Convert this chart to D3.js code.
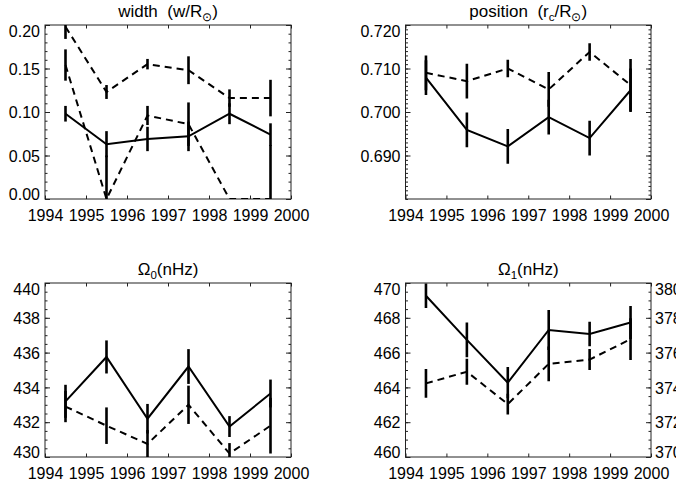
<!DOCTYPE html>
<html>
<head>
<meta charset="utf-8">
<script src="https://cdn.jsdelivr.net/npm/d3@7"></script>
<style>
  body { margin: 0; background: #fff; }
  text { font-family: "Liberation Sans", Arial, sans-serif; white-space: pre; }
</style>
</head>
<body>
<div id="chart"></div>
<script>
// years of the points (mid-year)
var years = [1994.5, 1995.5, 1996.5, 1997.5, 1998.5, 1999.5];
var yearTicks = [1994, 1995, 1996, 1997, 1998, 1999, 2000];

// width (w/Rsun)
var widthSolid = [0.098, 0.063, 0.069, 0.072, 0.098, 0.074];
var widthSolidErr = [0.009, 0.015, 0.014, 0.017, 0.012, 0.013];
var widthDashA = [0.198, 0.123, 0.155, 0.148, 0.116, 0.116];
var widthDashAErr = [0.014, 0.008, 0.006, 0.016, 0.010, 0.021];
var widthDashB = [0.154, 0.000, 0.096, 0.086, 0.000, 0.000];
var widthDashBErr = [0.018, 0.050, 0.011, 0.025, 0.000, 0.062];

// position (rc/Rsun)
var posSolid = [0.7079, 0.6959, 0.6921, 0.6988, 0.6940, 0.7050];
var posSolidErr = [0.004, 0.004, 0.004, 0.004, 0.004, 0.005];
var posDash = [0.7090, 0.7071, 0.7100, 0.7052, 0.7138, 0.7062];
var posDashErr = [0.004, 0.004, 0.002, 0.004, 0.002, 0.006];

// Omega0 (nHz)
var om0Solid = [433.2, 435.75, 432.2, 435.2, 431.75, 433.65];
var om0SolidErr = [0.95, 0.95, 0.85, 1.0, 0.6, 0.8];
var om0Dash = [432.9, 431.8, 430.75, 433.0, 430.2, 431.8];
var om0DashErr = [0.9, 1.05, 0.8, 1.1, 0.6, 1.6];

// Omega1 (nHz); dashed series goes with the right axis
var om1Solid = [469.27, 466.73, 464.27, 467.3, 467.07, 467.73];
var om1SolidErr = [0.7, 1.0, 0.9, 1.15, 0.7, 0.95];
var om1Dash = [374.23, 374.9, 373.04, 375.35, 375.6, 376.77];
var om1DashErr = [0.83, 0.75, 0.6, 1.0, 0.6, 1.2];

var W = 676, H = 486;
var svg = d3.select("#chart").append("svg")
  .attr("width", W).attr("height", H);

var fontSize = 16;

function range(a, b, s) {
  var out = [];
  for (var v = a; v <= b + s / 1000; v += s) out.push(+v.toFixed(6));
  return out;
}

function panel(opt, idx) {
  var g = svg.append("g");
  var x = d3.scaleLinear().domain([1994, 2000]).range([opt.x0, opt.x1]);
  var y = d3.scaleLinear().domain(opt.ydom).range([opt.y1, opt.y0]);
  var h = opt.y1 - opt.y0, w = opt.x1 - opt.x0;

  var clipId = "clip" + idx;
  g.append("clipPath").attr("id", clipId)
    .append("rect")
    .attr("x", opt.x0).attr("y", opt.y0)
    .attr("width", w).attr("height", h);

  // bottom axis
  var bx = g.append("g")
    .attr("transform", "translate(0," + opt.y1 + ")")
    .call(d3.axisBottom(x).tickValues(yearTicks).tickSize(-3.5).tickSizeOuter(0)
      .tickFormat(d3.format("d")));
  bx.selectAll("text").attr("y", 22).attr("dy", 0);
  // top axis (ticks only)
  g.append("g")
    .attr("transform", "translate(0," + opt.y0 + ")")
    .call(d3.axisTop(x).tickValues(yearTicks).tickSize(-3.5).tickSizeOuter(0).tickFormat(""));

  // left axis
  var ly = g.append("g")
    .attr("transform", "translate(" + opt.x0 + ",0)")
    .call(d3.axisLeft(y).tickValues(opt.major).tickSize(-5).tickSizeOuter(0)
      .tickPadding(5).tickFormat(opt.fmt));
  ly.selectAll(".tick text")
    .attr("dy", "0.36em")
    .attr("y", function(d) {
      var p = y(d);
      return Math.max(opt.y0 + 5.5, Math.min(opt.y1 - 5.5, p)) - p;
    });
  g.append("g")
    .attr("transform", "translate(" + opt.x0 + ",0)")
    .call(d3.axisLeft(y).tickValues(opt.minor).tickSize(-2.5).tickSizeOuter(0).tickFormat(""));

  // right axis
  var y2 = opt.ydom2 ? d3.scaleLinear().domain(opt.ydom2).range([opt.y1, opt.y0]) : y;
  var ry = g.append("g")
    .attr("transform", "translate(" + opt.x1 + ",0)")
    .call(d3.axisRight(y2).tickValues(opt.major2 || opt.major).tickSize(-5).tickSizeOuter(0)
      .tickPadding(4).tickFormat(opt.ydom2 ? d3.format("d") : ""));
  ry.selectAll(".tick text")
    .attr("dy", "0.36em")
    .attr("y", function(d) {
      var p = y2(d);
      return Math.max(opt.y0 + 5.5, Math.min(opt.y1 - 5.5, p)) - p;
    });
  g.append("g")
    .attr("transform", "translate(" + opt.x1 + ",0)")
    .call(d3.axisRight(y2).tickValues(opt.minor2 || opt.minor).tickSize(-2.5).tickSizeOuter(0).tickFormat(""));

  g.selectAll(".domain").remove();
  g.selectAll(".tick line").attr("stroke", "#222").attr("stroke-width", 1);
  g.selectAll(".tick text").attr("font-size", fontSize)
    .attr("font-family", "Liberation Sans, Arial, sans-serif").attr("fill", "#000");

  // frame
  g.append("rect")
    .attr("x", opt.x0).attr("y", opt.y0)
    .attr("width", w).attr("height", h)
    .attr("fill", "none").attr("stroke", "#222").attr("stroke-width", 1);

  // series
  var plot = g.append("g").attr("clip-path", "url(#" + clipId + ")");
  opt.series.forEach(function(s) {
    var ys = s.right ? y2 : y;
    var pts = years.map(function(yr, i) { return {x: yr, v: s.v[i], e: s.e[i]}; });
    plot.append("path")
      .datum(pts)
      .attr("fill", "none")
      .attr("stroke", "#000")
      .attr("stroke-width", 2)
      .attr("stroke-dasharray", s.dash ? "7,5" : null)
      .attr("d", d3.line().x(function(d) { return x(d.x); }).y(function(d) { return ys(d.v); }));
    plot.selectAll(null)
      .data(pts)
      .enter().append("line")
      .attr("x1", function(d) { return x(d.x); })
      .attr("x2", function(d) { return x(d.x); })
      .attr("y1", function(d) { return ys(d.v - d.e); })
      .attr("y2", function(d) { return ys(d.v + d.e); })
      .attr("stroke", "#000")
      .attr("stroke-width", 2.6);
  });

  // title
  var t = g.append("text")
    .attr("x", (opt.x0 + opt.x1) / 2)
    .attr("y", opt.y0 - 8)
    .attr("text-anchor", "middle")
    .attr("font-size", 17);
  opt.title.forEach(function(p) {
    var ts = t.append("tspan").text(p.t);
    if (p.sub) ts.attr("font-size", 11.5).attr("dy", 4);
    if (p.up) ts.attr("dy", -4);
  });
}

var ticks1 = {
  x0: 45, x1: 291, y0: 25, y1: 199,
  ydom: [0, 0.2], major: range(0, 0.2, 0.05), minor: range(0, 0.2, 0.01),
  fmt: d3.format(".2f"),
  title: [{t: "width  (w/R"}, {t: "\u2299", sub: true}, {t: ")", up: true}],
  series: [
    {v: widthSolid, e: widthSolidErr},
    {v: widthDashA, e: widthDashAErr, dash: true},
    {v: widthDashB, e: widthDashBErr, dash: true}
  ]
};
var ticks2 = {
  x0: 405.5, x1: 651, y0: 25, y1: 199,
  ydom: [0.68, 0.72], major: range(0.69, 0.72, 0.01), minor: range(0.68, 0.72, 0.001),
  major2: range(0.68, 0.72, 0.01),
  fmt: d3.format(".3f"),
  title: [{t: "position  (r"}, {t: "c", sub: true}, {t: "/R", up: true}, {t: "\u2299", sub: true}, {t: ")", up: true}],
  series: [
    {v: posSolid, e: posSolidErr},
    {v: posDash, e: posDashErr, dash: true}
  ]
};
var ticks3 = {
  x0: 45, x1: 291, y0: 283, y1: 457,
  ydom: [430, 440], major: range(430, 440, 2), minor: range(430, 440, 0.5),
  fmt: d3.format("d"),
  title: [{t: "\u03A9"}, {t: "0", sub: true}, {t: "(nHz)", up: true}],
  series: [
    {v: om0Solid, e: om0SolidErr},
    {v: om0Dash, e: om0DashErr, dash: true}
  ]
};
var ticks4 = {
  x0: 405.5, x1: 651, y0: 283, y1: 457,
  ydom: [460, 470], major: range(460, 470, 2), minor: range(460, 470, 0.5),
  ydom2: [370, 380], major2: range(370, 380, 2), minor2: range(370, 380, 0.5),
  fmt: d3.format("d"),
  title: [{t: "\u03A9"}, {t: "1", sub: true}, {t: "(nHz)", up: true}],
  series: [
    {v: om1Solid, e: om1SolidErr},
    {v: om1Dash, e: om1DashErr, dash: true, right: true}
  ]
};

[ticks1, ticks2, ticks3, ticks4].forEach(panel);
</script>
</body>
</html>
